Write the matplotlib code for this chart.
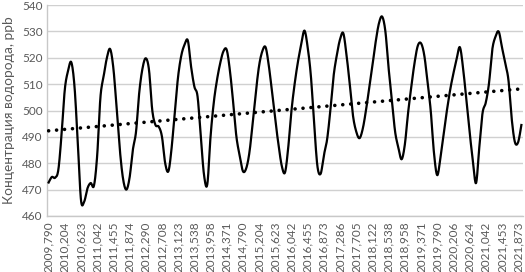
import numpy as np
import matplotlib
matplotlib.use("Agg")
import matplotlib.pyplot as plt

plt.rcParams['font.family'] = ['Lato', 'Noto Sans', 'DejaVu Sans']

# месячные значения концентрации водорода, ppb (окт. 2009 - дек. 2021)
h2 = [472.7, 474.8, 474.5, 477.5, 491.0, 508.0, 515.0, 518.3, 509.0, 488.0,
      466.0, 465.5, 470.5, 472.5, 471.5, 483.0, 505.0, 513.0, 520.0, 523.3,
      516.0, 501.0, 485.0, 474.0, 470.0, 474.5, 485.0, 492.0, 507.0, 516.0,
      519.8, 515.4, 500.2, 494.5, 493.9, 490.1, 480.0, 477.0, 486.0, 500.0,
      513.0, 521.0, 525.0, 526.5, 516.6, 509.1, 505.3, 490.0, 475.5, 472.0,
      490.0, 503.0, 511.6, 518.0, 522.5, 523.0, 515.0, 503.0, 490.0, 483.0,
      477.0, 478.0, 484.0, 495.0, 507.0, 517.0, 522.5, 524.0, 517.0, 507.0,
      496.4, 487.0, 479.0, 476.5, 486.0, 500.0, 510.3, 518.5, 525.0, 530.3,
      524.0, 513.0, 495.0, 479.0, 476.0, 483.0, 489.0, 500.0, 513.0, 521.0,
      527.0, 529.3, 521.0, 510.0, 498.0, 492.0, 489.5, 493.0, 500.0, 508.5,
      517.0, 526.0, 533.0, 535.6, 530.0, 516.0, 504.0, 492.0, 486.0, 481.5,
      487.0, 499.0, 509.0, 518.0, 524.5, 525.5, 521.0, 511.0, 500.0, 484.0,
      475.5, 482.0, 491.4, 500.0, 507.8, 514.0, 519.5, 524.0, 516.0, 504.0,
      492.0, 481.0, 472.5, 486.0, 499.0, 503.0, 510.3, 523.0, 528.0, 529.9,
      524.0, 517.9, 511.6, 497.0, 488.0, 488.0, 494.5]

# линейный тренд: значения в первой и последней точке
trend_ends = [492.3, 508.2]

# подписи оси X (каждая 5-я точка)
tick_labels = ['2009,790', '2010,204', '2010,623', '2011,042', '2011,455',
               '2011,874', '2012,290', '2012,708', '2013,123', '2013,538',
               '2013,958', '2014,371', '2014,790', '2015,204', '2015,623',
               '2016,042', '2016,455', '2016,873', '2017,286', '2017,705',
               '2018,122', '2018,538', '2018,958', '2019,371', '2019,790',
               '2020,206', '2020,624', '2021,042', '2021,453', '2021,873']


def smooth(xs, ys, n=16):
    # сглаженная линия как в Excel (кривые Безье через точки)
    xs = np.asarray(xs, float)
    ys = np.asarray(ys, float)
    px = np.concatenate([[xs[0]], xs, [xs[-1]]])
    py = np.concatenate([[ys[0]], ys, [ys[-1]]])
    t = np.linspace(0, 1, n, endpoint=False)[:, None]
    out_x, out_y = [], []
    for i in range(1, len(px) - 2):
        p0 = np.array([px[i], py[i]])
        p3 = np.array([px[i + 1], py[i + 1]])
        c1 = p0 + (np.array([px[i + 1], py[i + 1]]) - np.array([px[i - 1], py[i - 1]])) / 6
        c2 = p3 - (np.array([px[i + 2], py[i + 2]]) - np.array([px[i], py[i]])) / 6
        pts = ((1 - t) ** 3) * p0 + 3 * ((1 - t) ** 2) * t * c1 \
            + 3 * (1 - t) * t ** 2 * c2 + t ** 3 * p3
        out_x.append(pts[:, 0])
        out_y.append(pts[:, 1])
    out_x.append([xs[-1]])
    out_y.append([ys[-1]])
    return np.concatenate(out_x), np.concatenate(out_y)


x = np.arange(len(h2))
sx, sy = smooth(x, h2)

fig = plt.figure(figsize=(5.25, 2.72), dpi=100)
ax = fig.add_axes([47 / 525, 1 - 216 / 272, 476 / 525, 211 / 272])

ax.plot(sx, sy, color='black', lw=1.6, solid_joinstyle='round', zorder=3)
ax.plot([x[0], x[-1]], trend_ends, color='black', lw=2.6,
        linestyle=(0, (0.01, 2.2)), dash_capstyle='round', zorder=4)

ax.set_xlim(-0.5, len(h2) - 0.5)
ax.set_ylim(460, 540)
ax.set_yticks(np.arange(460, 541, 10))
ax.set_xticks(x[::5])
ax.set_xticklabels(tick_labels, rotation=90)

ax.grid(axis='y', color='#d0d0d0', lw=1.0)
ax.set_axisbelow(True)
for s in ['top', 'right']:
    ax.spines[s].set_visible(False)
for s in ['left', 'bottom']:
    ax.spines[s].set_color('#c8c8c8')
    ax.spines[s].set_linewidth(1.0)

ax.tick_params(axis='both', length=0, colors='#595959', labelsize=8.5)
ax.tick_params(axis='y', pad=3)
ax.tick_params(axis='x', pad=4)

ax.set_ylabel('Концентрация водорода, ppb', fontsize=9.8, color='#595959',
              labelpad=5)

fig.savefig('out.png', dpi=100)
